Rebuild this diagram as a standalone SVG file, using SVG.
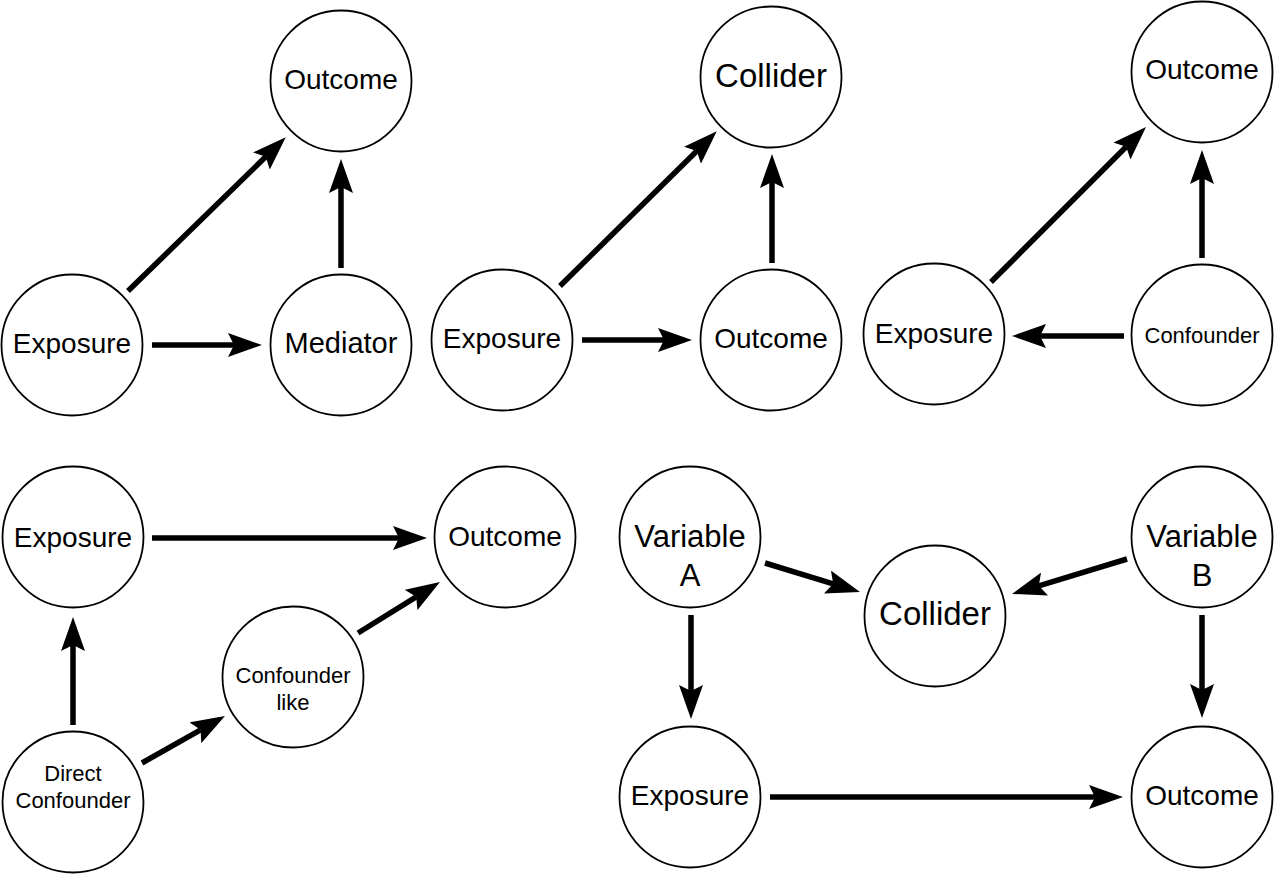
<svg xmlns="http://www.w3.org/2000/svg" width="1274" height="877" viewBox="0 0 1274 877">
<style>
.n{fill:#fff;stroke:#000;stroke-width:1.8}
.t{font-family:"Liberation Sans",Arial,sans-serif;fill:#000;text-anchor:middle}
.e{stroke:#000;stroke-width:5.5;fill:none;marker-end:url(#ah)}
</style>
<defs>
<marker id="ah" markerUnits="userSpaceOnUse" viewBox="0 -12 34 24" markerWidth="34" markerHeight="24" refX="6" refY="0" orient="auto">
<path d="M0,-12 L34,0 L0,12 L6,0 Z" fill="#000"/>
</marker>
</defs>
<rect width="1274" height="877" fill="#fff"/>
<g id="connectors">
<line class="e" x1="152" y1="345" x2="234" y2="345"/>
<line class="e" x1="128" y1="291" x2="265.7" y2="156.8"/>
<line class="e" x1="341" y1="268" x2="341" y2="187"/>
<line class="e" x1="582" y1="340" x2="664" y2="340"/>
<line class="e" x1="560" y1="286" x2="696.8" y2="151"/>
<line class="e" x1="772" y1="263" x2="772" y2="182"/>
<line class="e" x1="1124" y1="336" x2="1040" y2="336"/>
<line class="e" x1="991" y1="282" x2="1126.2" y2="146.8"/>
<line class="e" x1="1202" y1="258" x2="1202" y2="178"/>
<line class="e" x1="152" y1="538" x2="399" y2="538"/>
<line class="e" x1="73" y1="725" x2="73" y2="645"/>
<line class="e" x1="142" y1="763" x2="200.6" y2="729.8"/>
<line class="e" x1="358" y1="633" x2="416.2" y2="596.8"/>
<line class="e" x1="765" y1="563" x2="833.2" y2="583.8"/>
<line class="e" x1="1127" y1="559" x2="1038.8" y2="585.8"/>
<line class="e" x1="691" y1="615" x2="691" y2="691"/>
<line class="e" x1="1202" y1="615" x2="1202" y2="690"/>
<line class="e" x1="770" y1="797" x2="1095" y2="797"/>
</g>
<g id="p1-outcome"><circle class="n" cx="341" cy="81" r="70.5"/><text class="t" x="341" y="89" font-size="28">Outcome</text></g>
<g id="p1-exposure"><circle class="n" cx="72" cy="345" r="70.5"/><text class="t" x="72" y="353" font-size="28">Exposure</text></g>
<g id="p1-mediator"><circle class="n" cx="341" cy="345" r="70.5"/><text class="t" x="341" y="353" font-size="29">Mediator</text></g>
<g id="p2-collider"><circle class="n" cx="771" cy="77" r="70.5"/><text class="t" x="771" y="87" font-size="33">Collider</text></g>
<g id="p2-exposure"><circle class="n" cx="502" cy="340" r="70.5"/><text class="t" x="502" y="348" font-size="28">Exposure</text></g>
<g id="p2-outcome"><circle class="n" cx="771" cy="340" r="70.5"/><text class="t" x="771" y="348" font-size="28">Outcome</text></g>
<g id="p3-outcome"><circle class="n" cx="1202" cy="72" r="70.5"/><text class="t" x="1202" y="79" font-size="28">Outcome</text></g>
<g id="p3-exposure"><circle class="n" cx="934" cy="334" r="70.5"/><text class="t" x="934" y="343" font-size="28">Exposure</text></g>
<g id="p3-confounder"><circle class="n" cx="1202" cy="335" r="70.5"/><text class="t" x="1202" y="343" font-size="22">Confounder</text></g>
<g id="p4-exposure"><circle class="n" cx="73" cy="537" r="70.5"/><text class="t" x="73" y="547" font-size="28">Exposure</text></g>
<g id="p4-outcome"><circle class="n" cx="505" cy="537" r="70.5"/><text class="t" x="505" y="546" font-size="28">Outcome</text></g>
<g id="p4-confounder-like"><circle class="n" cx="293" cy="677" r="70.5"/><text class="t" x="293" y="683" font-size="22">Confounder</text><text class="t" x="293" y="710" font-size="22">like</text></g>
<g id="p4-direct-confounder"><circle class="n" cx="73" cy="802" r="70.5"/><text class="t" x="73" y="781" font-size="22">Direct</text><text class="t" x="73" y="808" font-size="22">Confounder</text></g>
<g id="p5-variable-a"><circle class="n" cx="690" cy="537" r="70.5"/><text class="t" x="690" y="547" font-size="31">Variable</text><text class="t" x="690" y="586" font-size="31">A</text></g>
<g id="p5-variable-b"><circle class="n" cx="1202" cy="537" r="70.5"/><text class="t" x="1202" y="547" font-size="31">Variable</text><text class="t" x="1202" y="586" font-size="31">B</text></g>
<g id="p5-collider"><circle class="n" cx="935" cy="616" r="70.5"/><text class="t" x="935" y="625" font-size="33">Collider</text></g>
<g id="p5-exposure"><circle class="n" cx="690" cy="797" r="70.5"/><text class="t" x="690" y="805" font-size="28">Exposure</text></g>
<g id="p5-outcome"><circle class="n" cx="1202" cy="797" r="70.5"/><text class="t" x="1202" y="805" font-size="28">Outcome</text></g>
</svg>
